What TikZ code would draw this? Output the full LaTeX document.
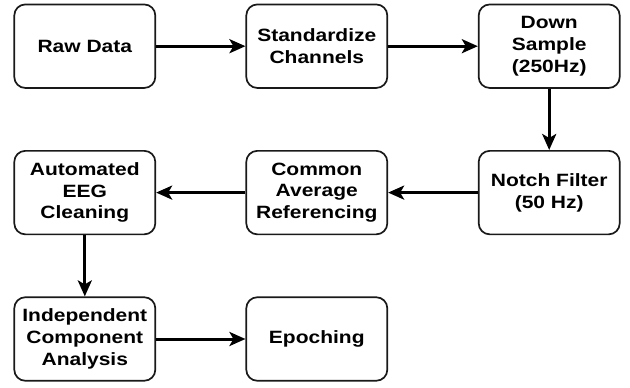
\documentclass[tikz,border=0pt]{standalone}
\usepackage{fontspec}
\setmainfont[FakeStretch=1.18]{Liberation Sans}
\usetikzlibrary{arrows.meta}
\begin{document}
\begin{tikzpicture}[x=1pt,y=-1pt,
  stage/.style={draw=black!90, line width=1.7pt, rounded corners=11pt,
    minimum width=141pt, minimum height=83.5pt, inner sep=0pt, align=center,
    font=\fontsize{17.8}{21.7}\selectfont\bfseries, text=black},
  flow/.style={line width=3pt, draw=black,
    -{Stealth[length=16pt, width=14pt, inset=4pt]}}]
  \useasboundingbox (0,0) rectangle (630,388);
  % first row
  \node[stage] (raw)   at (84.8,46.2)  {Raw Data};
  \node[stage] (std)   at (316.8,46.2) {Standardize\\Channels};
  \node[stage] (down)  at (549.2,46.2) {Down\\Sample\\(250Hz)};
  % second row
  \node[stage] (notch) at (549.2,192.6) {Notch Filter\\(50 Hz)};
  \node[stage] (car)   at (316.8,192.6) {Common\\Average\\Referencing};
  \node[stage] (clean) at (84.8,192.6)  {Automated\\EEG\\Cleaning};
  % third row
  \node[stage] (ica)   at (84.8,339)  {Independent\\Component\\Analysis};
  \node[stage] (epoch) at (316.8,339) {Epoching};
  % pipeline connectors
  \draw[flow] (raw) -- (std);
  \draw[flow] (std) -- (down);
  \draw[flow] (down) -- (notch);
  \draw[flow] (notch) -- (car);
  \draw[flow] (car) -- (clean);
  \draw[flow] (clean) -- (ica);
  \draw[flow] (ica) -- (epoch);
\end{tikzpicture}
\end{document}
